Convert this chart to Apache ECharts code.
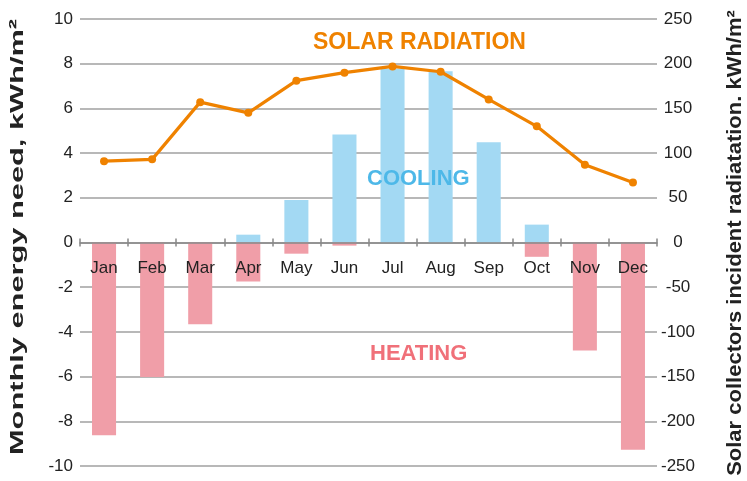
<!DOCTYPE html>
<html>
<head>
<meta charset="utf-8">
<script src="https://cdn.jsdelivr.net/npm/echarts@6/dist/echarts.min.js"></script>
<style>
  html, body { margin: 0; padding: 0; background: #fff; }
  #chart { width: 747px; height: 481px; }
</style>
</head>
<body>
<div id="chart"></div>
<script>
const months = ['Jan', 'Feb', 'Mar', 'Apr', 'May', 'Jun', 'Jul', 'Aug', 'Sep', 'Oct', 'Nov', 'Dec']
// kWh/m2, left axis
const cooling = [0, 0, 0, 0.35, 1.9, 4.83, 7.77, 7.66, 4.49, 0.8, 0, 0]
const heating = [-8.62, -6.02, -3.66, -1.74, -0.5, -0.14, 0, 0, 0, -0.64, -4.83, -9.27]
// kWh/m2, right axis
const solar = [91, 93, 157, 145, 181, 190, 197, 191, 160, 130, 87, 67]

const font = '"Liberation Sans", Arial, sans-serif'
// grid is 447px tall, zero sits in the middle
const zeroOffset = -223.5

const chart = echarts.init(document.getElementById('chart'))
chart.setOption({
  animation: false,
  textStyle: { fontFamily: font },
  grid: { left: 80, right: 90, top: 19, bottom: 15, containLabel: false, outerBoundsMode: 'none' },
  xAxis: [
    {
      type: 'category',
      data: months,
      offset: zeroOffset,
      z: 10,
      axisLine: { onZero: false, lineStyle: { color: '#888', width: 1.5 } },
      axisTick: { show: true, length: 4, lineStyle: { color: '#888', width: 1.5 } },
      axisLabel: { color: '#222', fontSize: 17, margin: 17, fontFamily: font }
    },
    {
      // only the upper half of the crossing ticks
      type: 'category',
      data: months,
      position: 'bottom',
      offset: zeroOffset,
      z: 10,
      axisLine: { show: false, onZero: false },
      axisTick: { show: true, inside: true, length: 4, lineStyle: { color: '#888', width: 1.5 } },
      axisLabel: { show: false }
    }
  ],
  yAxis: [
    {
      type: 'value',
      min: -10,
      max: 10,
      interval: 2,
      axisLine: { show: false },
      axisTick: { show: false },
      axisLabel: { color: '#222', fontSize: 17, margin: 7, fontFamily: font },
      splitLine: { lineStyle: { color: '#a0a0a0', width: 1.5 } }
    },
    {
      type: 'value',
      min: -250,
      max: 250,
      interval: 50,
      position: 'right',
      axisLine: { show: false },
      axisTick: { show: false },
      axisLabel: { color: '#222', fontSize: 17, margin: 21, align: 'center', fontFamily: font },
      splitLine: { show: false }
    }
  ],
  series: [
    {
      name: 'Cooling',
      type: 'bar',
      data: cooling,
      barWidth: '50%',
      barGap: '-100%',
      itemStyle: { color: '#a3d9f3' }
    },
    {
      name: 'Heating',
      type: 'bar',
      data: heating,
      barWidth: '50%',
      barGap: '-100%',
      itemStyle: { color: '#f09ea8' }
    },
    {
      name: 'Solar radiation',
      type: 'line',
      yAxisIndex: 1,
      data: solar,
      z: 20,
      symbol: 'circle',
      symbolSize: 8,
      lineStyle: { color: '#ef8200', width: 3.2 },
      itemStyle: { color: '#ef8200' }
    }
  ],
  graphic: [
    {
      type: 'text', x: 18, y: 237, rotation: Math.PI / 2, scaleX: 1.62,
      style: { text: 'Monthly energy need, kWh/m²', fill: '#222', font: 'bold 19px ' + font, align: 'center', verticalAlign: 'middle' }
    },
    {
      type: 'text', x: 735, y: 243, rotation: Math.PI / 2, scaleX: 1.1,
      style: { text: 'Solar collectors incident radiatation. kWh/m²', fill: '#222', font: 'bold 20px ' + font, align: 'center', verticalAlign: 'middle' }
    },
    {
      type: 'text', left: 313, top: 31, z: 100,
      style: { text: 'SOLAR RADIATION', fill: '#ef8200', font: 'bold 23px ' + font }
    },
    {
      type: 'text', left: 367, top: 168, z: 100,
      style: { text: 'COOLING', fill: '#4db8e8', font: 'bold 22px ' + font }
    },
    {
      type: 'text', left: 370, top: 343, z: 100,
      style: { text: 'HEATING', fill: '#f07079', font: 'bold 22px ' + font }
    }
  ]
})
</script>
</body>
</html>
